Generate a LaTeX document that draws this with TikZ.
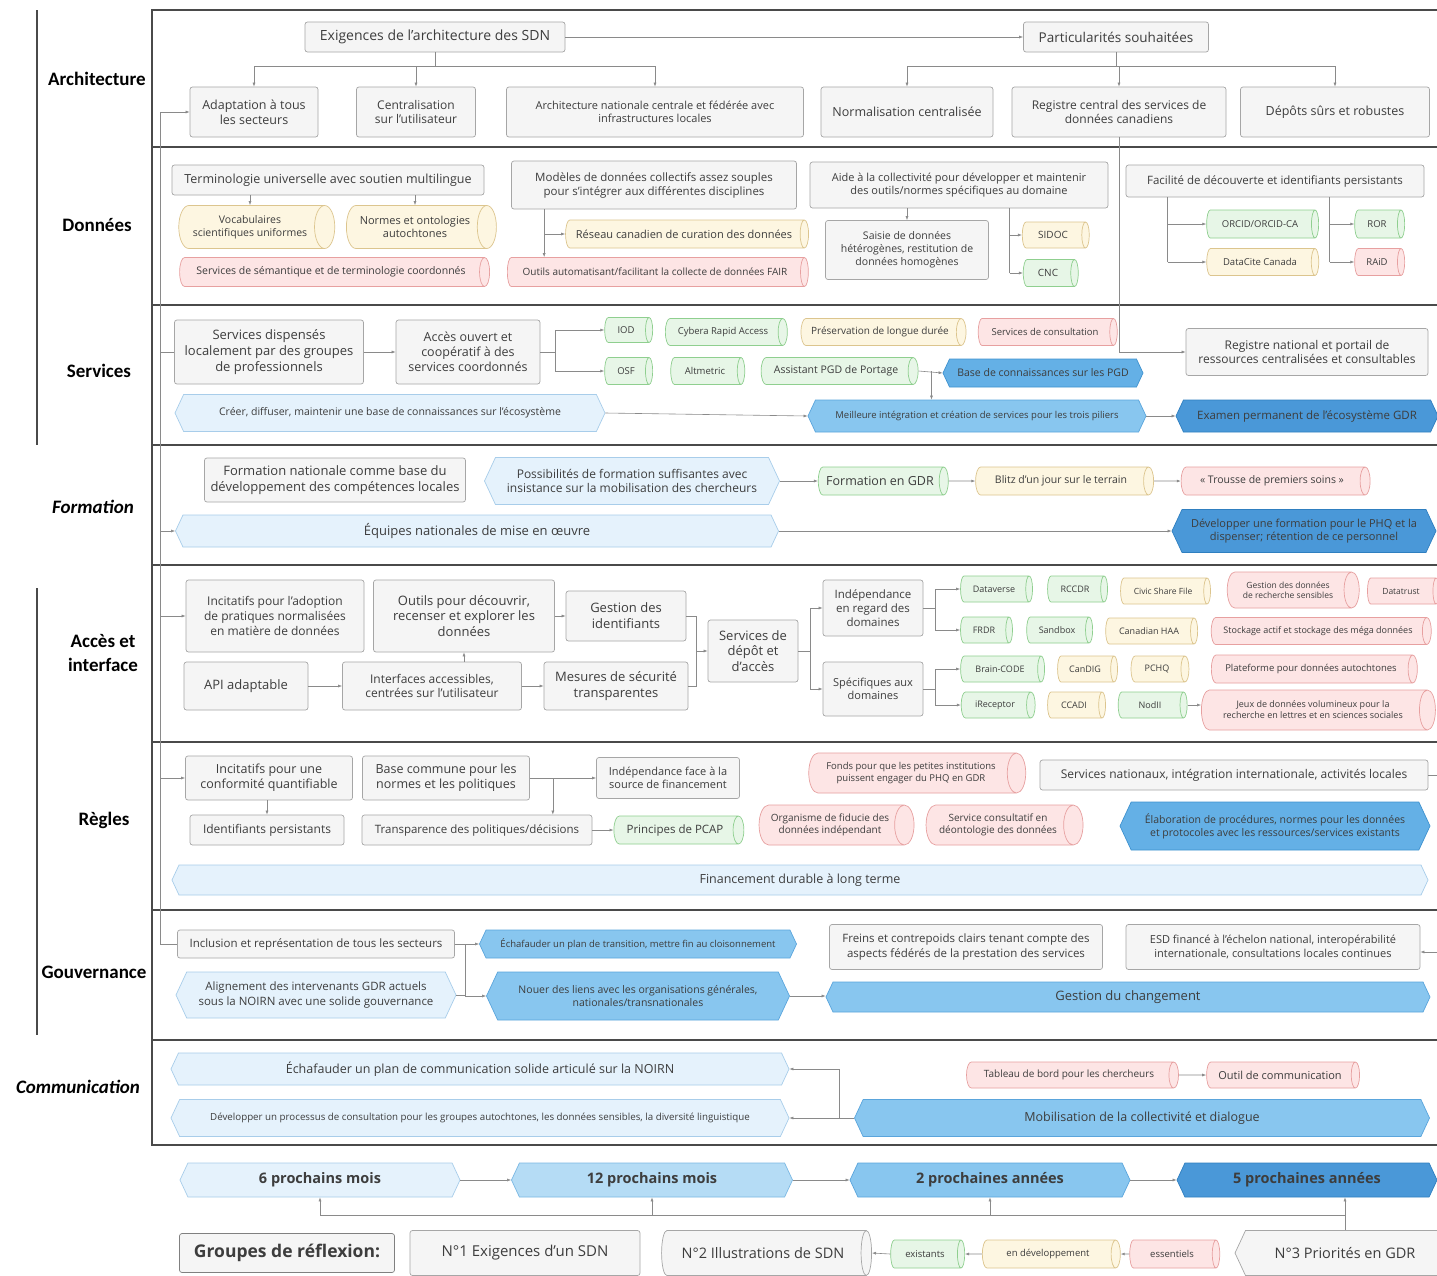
\documentclass[tikz,border=0pt]{standalone}
\usepackage{fontspec}
\setmainfont{Open Sans}
\newfontfamily\lab{Carlito}
\usetikzlibrary{shapes.geometric,shapes.symbols,arrows.meta,calc}
\newcommand\fs[1]{\fontsize{#1}{\fpeval{1.22*#1}}\selectfont}
\definecolor{txt}{HTML}{3D3D3D}
\definecolor{gbd}{HTML}{A6A6A6}
\definecolor{gfl}{HTML}{F5F5F5}
\definecolor{gnb}{HTML}{8FCF8F}
\definecolor{gnf}{HTML}{E7F6E7}
\definecolor{ylb}{HTML}{DCC58E}
\definecolor{ylf}{HTML}{FDF6E1}
\definecolor{pkb}{HTML}{E7A0A0}
\definecolor{pkf}{HTML}{FDE5E5}
\definecolor{lbd}{HTML}{A8CDEA}
\definecolor{lbf}{HTML}{E5F2FC}
\definecolor{mbd}{HTML}{7AB8E3}
\definecolor{mbf}{HTML}{B5DCF5}
\definecolor{bbd}{HTML}{5AA5DC}
\definecolor{bbf}{HTML}{88C6EF}
\definecolor{b3d}{HTML}{3F92CF}
\definecolor{b3f}{HTML}{64B0E6}
\definecolor{dbd}{HTML}{2F7FC0}
\definecolor{dbf}{HTML}{4A98D8}
\definecolor{lnc}{HTML}{8A8A8A}
\definecolor{frm}{HTML}{4A4A4A}
\tikzset{
  nb/.style={align=center, text=txt, inner sep=1pt, line width=0.7pt},
  wh/.style 2 args={minimum width=#1, minimum height=#2},
  cw/.style 2 args={minimum height=#1, minimum width=#2},
  fz/.style={font=\fs{#1}},
  gbox/.style={nb, rectangle, rounded corners=2.5pt, draw=gbd, fill=gfl},
  cylb/.style={nb, cylinder, aspect=0.8, shape border rotate=0},
  gcyl/.style={cylb, draw=gnb, fill=gnf},
  ycyl/.style={cylb, draw=ylb, fill=ylf},
  pcyl/.style={cylb, draw=pkb, fill=pkf},
  graycyl/.style={cylb, draw=gbd, fill=gfl},
  hexb/.style={nb, signal, signal to=east and west, signal pointer angle=130},
  hL/.style={hexb, draw=lbd, fill=lbf},
  hM/.style={hexb, draw=mbd, fill=mbf},
  hB/.style={hexb, draw=bbd, fill=bbf},
  hB3/.style={hexb, draw=b3d, fill=b3f},
  hD/.style={hexb, draw=dbd, fill=dbf},
  hG/.style={hexb, draw=gbd, fill=gfl},
  ln/.style={draw=lnc, line width=0.6pt},
  ar/.style={ln, -{Latex[length=4pt,width=3pt]}},
  sec/.style={font=\lab\bfseries\fs{19}, align=center, text=black},
  seci/.style={font=\lab\bfseries\itshape\fs{19}, align=center, text=black},
  frame/.style={draw=frm, line width=2.4pt},
  spine/.style={draw=frm, line width=1.8pt},
}
\begin{document}
\begin{tikzpicture}[x=1pt,y=-1pt]
\useasboundingbox (0,0) rectangle (1437,1275);
\fill[white] (0,0) rectangle (1437,1275);

% frame
\draw[frame] (1437,10) -- (152,10) -- (152,1145) -- (1437,1145);
\foreach \yy in {147,305,445,565,742,910,1040} \draw[frame] (152,\yy) -- (1437,\yy);
\draw[spine] (37,10) -- (37,445);
\draw[spine] (37,588) -- (37,1035);

% section labels
\node[sec] (lArch) at (97,79) {Architecture};
\node[sec] (lDon) at (97,225) {Données};
\node[sec] (lServ) at (99,371) {Services};
\node[seci] (lForm) at (93,507) {Formation};
\node[sec] (lAcc) at (103,653) {Accès et\\interface};
\node[sec] (lRegl) at (104,820) {Règles};
\node[sec] (lGouv) at (94,972) {Gouvernance};
\node[seci] (lComm) at (78,1087) {Communication};

% ---------------- Architecture
\node[gbox,wh={260}{30},fz=14] (exig) at (435,37) {Exigences de l'architecture des SDN};
\node[gbox,wh={185}{30},fz=13.5] (part) at (1116,37) {Particularités souhaitées};
\node[gbox,wh={128}{50},fz=12.5] (adapt) at (254,112) {Adaptation à tous\\les secteurs};
\node[gbox,wh={119}{50},fz=12] (centr) at (416,112) {Centralisation\\sur l'utilisateur};
\node[gbox,wh={297}{50},fz=11] (archnat) at (655,112) {Architecture nationale centrale et fédérée avec\\infrastructures locales};
\node[gbox,wh={172}{50},fz=12.5] (norm) at (907,112) {Normalisation centralisée};
\node[gbox,wh={214}{50},fz=12] (regc) at (1119,112) {Registre central des services de\\données canadiens};
\node[gbox,wh={189}{50},fz=12.5] (depot) at (1335,112) {Dépôts sûrs et robustes};

% ---------------- Données
\node[gbox,wh={312}{30},fz=12.5] (termi) at (328,180) {Terminologie universelle avec soutien multilingue};
\node[ycyl,cw={156}{43},fz=10.5] (vocab) at (250,227) {Vocabulaires\\scientifiques uniformes};
\node[ycyl,cw={150}{43},fz=11] (normaut) at (415,227) {Normes et ontologies\\autochtones};
\node[pcyl,cw={310}{29},fz=10.5] (semant) at (331,272) {Services de sémantique et de terminologie coordonnés};
\node[gbox,wh={285}{48},fz=11.5] (model) at (654,185) {Modèles de données collectifs assez souples\\pour s'intégrer aux différentes disciplines};
\node[ycyl,cw={243}{28},fz=11] (reseau) at (684,234) {Réseau canadien de curation des données};
\node[pcyl,cw={301}{29},fz=10] (outils) at (655,272) {Outils automatisant/facilitant la collecte de données FAIR};
\node[gbox,wh={298}{46},fz=11] (aide) at (959,185) {Aide à la collectivité pour développer et maintenir\\des outils/normes spécifiques au domaine};
\node[gbox,wh={163}{59},fz=10.5] (saisie) at (907,250) {Saisie de données\\hétérogènes, restitution de\\données homogènes};
\node[ycyl,cw={67}{26},fz=10] (sidoc) at (1053,235) {SIDOC};
\node[gcyl,cw={55}{27},fz=10] (cnc) at (1048,273) {CNC};
\node[gbox,wh={298}{32},fz=11.5] (facil) at (1275,181) {Facilité de découverte et identifiants persistants};
\node[gcyl,cw={112}{28},fz=9.5] (orcid) at (1260,224) {ORCID/ORCID-CA};
\node[ycyl,cw={112}{27},fz=9.5] (datacite) at (1260,262) {DataCite Canada};
\node[gcyl,cw={50}{28},fz=9.5] (ror) at (1377,224) {ROR};
\node[pcyl,cw={50}{27},fz=9.5] (raid) at (1377,262) {RAiD};

% ---------------- Services
\node[gbox,wh={189}{64},fz=13] (servd) at (269,352) {Services dispensés\\localement par des groupes\\de professionnels};
\node[gbox,wh={144}{64},fz=12.5] (acces) at (468,352) {Accès ouvert et\\coopératif à des\\services coordonnés};
\node[gcyl,cw={48}{25},fz=9.5] (iod) at (626,330) {IOD};
\node[gcyl,cw={48}{27},fz=9.5] (osf) at (626,371) {OSF};
\node[gcyl,cw={122}{27},fz=9.5] (cybera) at (723,332) {Cybera Rapid Access};
\node[ycyl,cw={165}{27},fz=10] (preserv) at (880,332) {Préservation de longue durée};
\node[pcyl,cw={139}{27},fz=9.5] (consult) at (1045,332) {Services de consultation};
\node[gcyl,cw={74}{27},fz=9.5] (altm) at (705,371) {Altmetric};
\node[gcyl,cw={157}{27},fz=10.5] (assist) at (836,371) {Assistant PGD de Portage};
\node[hB3,wh={200}{28},fz=10.5] (basepgd) at (1043,373) {Base de connaissances sur les PGD};
\node[gbox,wh={242}{47},fz=12] (regnat) at (1307,352) {Registre national et portail de\\ressources centralisées et consultables};
\node[hL,wh={430}{37},fz=10.5] (creer) at (390,413) {Créer, diffuser, maintenir une base de connaissances sur l'écosystème};
\node[hB,wh={338}{32},fz=9.5] (meill) at (977,416) {Meilleure intégration et création de services pour les trois piliers};
\node[hD,wh={262}{32},fz=11.5] (examen) at (1307,416) {Examen permanent de l'écosystème GDR};

% ---------------- Formation
\node[gbox,wh={261}{44},fz=13] (formnat) at (335,480) {Formation nationale comme base du\\développement des compétences locales};
\node[hL,wh={295}{47},fz=12] (possib) at (632,481) {Possibilités de formation suffisantes avec\\insistance sur la mobilisation des chercheurs};
\node[gcyl,cw={130}{28},fz=12.5] (formgdr) at (880,481) {Formation en GDR};
\node[ycyl,cw={178}{28},fz=10.5] (blitz) at (1061,481) {Blitz d'un jour sur le terrain};
\node[pcyl,cw={189}{28},fz=10.5] (trousse) at (1272,481) {« Trousse de premiers soins »};
\node[hL,wh={603}{32},fz=13] (equipes) at (477,531) {Équipes nationales de mise en œuvre};
\node[hD,wh={264}{43},fz=11] (devform) at (1304,531) {Développer une formation pour le PHQ et la\\dispenser; rétention de ce personnel};

% ---------------- Accès et interface
\node[gbox,wh={178}{72},fz=12] (incad) at (275,616) {Incitatifs pour l'adoption\\de pratiques normalisées\\en matière de données};
\node[gbox,wh={181}{72},fz=13] (outdec) at (464,616) {Outils pour découvrir,\\recenser et explorer les\\données};
\node[gbox,wh={120}{50},fz=13] (gestid) at (626,616) {Gestion des\\identifiants};
\node[gbox,wh={124}{48},fz=13] (api) at (246,686) {API adaptable};
\node[gbox,wh={179}{48},fz=12] (interf) at (432,686) {Interfaces accessibles,\\centrées sur l'utilisateur};
\node[gbox,wh={144}{48},fz=13] (mesures) at (616,686) {Mesures de sécurité\\transparentes};
\node[gbox,wh={90}{62},fz=13] (servdep) at (753,651) {Services de\\dépôt et\\d'accès};
\node[gbox,wh={100}{56},fz=11.5] (indep) at (873,608) {Indépendance\\en regard des\\domaines};
\node[gbox,wh={100}{54},fz=11] (specif) at (873,689) {Spécifiques aux\\domaines};
\node[gcyl,cw={72}{26},fz=9] (dataverse) at (994,589) {Dataverse};
\node[gcyl,cw={60}{26},fz=9] (rccdr) at (1075,589) {RCCDR};
\node[ycyl,cw={90}{26},fz=8.5] (civic) at (1163,591) {Civic Share File};
\node[pcyl,cw={132}{36},fz=8.5] (gestsens) at (1288,590) {Gestion des données\\de recherche sensibles};
\node[pcyl,cw={72}{26},fz=8.5] (datat) at (1401,591) {Datatrust};
\node[gcyl,cw={52}{26},fz=9] (frdr) at (984,630) {FRDR};
\node[gcyl,cw={66}{26},fz=9] (sebilay) at (1057,630) {Sandbox};
\node[ycyl,cw={92}{26},fz=9] (canhaa) at (1149,631) {Canadian HAA};
\node[pcyl,cw={220}{27},fz=9] (stockage) at (1318,631) {Stockage actif et stockage des méga données};
\node[gcyl,cw={84}{26},fz=9] (brain) at (1000,669) {Brain-CODE};
\node[ycyl,cw={60}{26},fz=9] (candig) at (1085,669) {CanDIG};
\node[ycyl,cw={58}{26},fz=9] (pchq) at (1157,669) {PCHQ};
\node[pcyl,cw={206}{28},fz=9.5] (platf) at (1311,669) {Plateforme pour données autochtones};
\node[gcyl,cw={74}{26},fz=9] (irecep) at (995,705) {iReceptor};
\node[ycyl,cw={58}{26},fz=9] (ccadi) at (1074,705) {CCADI};
\node[gcyl,cw={69}{26},fz=9] (nodd) at (1150,705) {NodII};
\node[pcyl,cw={234}{40},fz=9] (jeux) at (1313,710) {Jeux de données volumineux pour la\\recherche en lettres et en sciences sociales};

% ---------------- Règles
\node[gbox,wh={167}{44},fz=12.5] (incconf) at (269,778) {Incitatifs pour une\\conformité quantifiable};
\node[gbox,wh={154}{30},fz=12] (identp) at (267,830) {Identifiants persistants};
\node[gbox,wh={167}{44},fz=12.5] (basecom) at (446,778) {Base commune pour les\\normes et les politiques};
\node[gbox,wh={143}{41},fz=11] (indepf) at (668,778) {Indépendance face à la\\source de financement};
\node[gbox,wh={230}{30},fz=11.5] (transp) at (477,830) {Transparence des politiques/décisions};
\node[gcyl,cw={130}{28},fz=11.5] (pcap) at (675,830) {Principes de PCAP};
\node[pcyl,cw={217}{40},fz=9.5] (fonds) at (911,773) {Fonds pour que les petites institutions\\puissent engager du PHQ en GDR};
\node[gbox,wh={388}{30},fz=12] (servnat) at (1234,775) {Services nationaux, intégration internationale, activités locales};
\node[pcyl,cw={155}{40},fz=10] (fiducie) at (830,825) {Organisme de fiducie des\\données indépendant};
\node[pcyl,cw={157}{40},fz=10] (consdeont) at (998,825) {Service consultatif en\\déontologie des données};
\node[hB3,wh={310}{48},fz=10.5] (elab) at (1275,826) {Élaboration de procédures, normes pour les données\\et protocoles avec les ressources/services existants};
\node[hL,wh={1256}{30},fz=12.5] (financ) at (800,880) {Financement durable à long terme};

% ---------------- Gouvernance
\node[gbox,wh={277}{28},fz=11.5] (inclus) at (316,944) {Inclusion et représentation de tous les secteurs};
\node[hL,wh={280}{46},fz=11.5] (align) at (316,995) {Alignement des intervenants GDR actuels\\sous la NOIRN avec une solide gouvernance};
\node[hB,wh={317}{28},fz=9.5] (echtrans) at (638,944) {Échafauder un plan de transition, mettre fin au cloisonnement};
\node[hB,wh={303}{48},fz=10.5] (nouer) at (638,996) {Nouer des liens avec les organisations générales,\\nationales/transnationales};
\node[hB,wh={604}{30},fz=13] (gestch) at (1128,997) {Gestion du changement};
\node[gbox,wh={273}{45},fz=11.5] (freins) at (966,947) {Freins et contrepoids clairs tenant compte des\\aspects fédérés de la prestation des services};
\node[gbox,wh={294}{45},fz=11] (esd) at (1273,947) {ESD financé à l'échelon national, interopérabilité\\internationale, consultations locales continues};

% ---------------- Communication
\node[hL,wh={618}{32},fz=12.5] (echcomm) at (480,1069) {Échafauder un plan de communication solide articulé sur la NOIRN};
\node[hL,wh={618}{37},fz=9.75] (devproc) at (480,1118) {Développer un processus de consultation pour les groupes autochtones, les données sensibles, la diversité linguistique};
\node[pcyl,cw={212}{26},fz=10] (tableau) at (1069,1075) {Tableau de bord pour les chercheurs};
\node[pcyl,cw={153}{26},fz=11] (outcom) at (1280,1075) {Outil de communication};
\node[hB,wh={575}{37},fz=12.5] (mobil) at (1142,1118) {Mobilisation de la collectivité et dialogue};

% ---------------- Bottom
\node[hL,wh={280}{34},fz=14.5] (m6) at (320,1180) {\bfseries 6 prochains mois};
\node[hM,wh={281}{34},fz=14.5] (m12) at (652,1180) {\bfseries 12 prochains mois};
\node[hB,wh={280}{34},fz=14.5] (a2) at (990,1180) {\bfseries 2 prochaines années};
\node[hD,wh={260}{34},fz=14.5] (a5) at (1307,1180) {\bfseries 5 prochaines années};
\node[gbox,draw=gray,wh={215}{39},fz=17.5] (groupes) at (287,1253) {\bfseries Groupes de réflexion:};
\node[gbox,wh={230}{45},fz=15] (n1) at (525,1253) {N°1 Exigences d'un SDN};
\node[graycyl,cw={210}{45},fz=14.5] (n2) at (763,1253) {N°2 Illustrations de SDN};
\node[gcyl,cw={74}{28},fz=9.5] (exist) at (925,1254) {existants};
\node[ycyl,cw={138}{28},fz=9.5] (endev) at (1048,1254) {en développement};
\node[pcyl,cw={90}{28},fz=9.5] (essent) at (1172,1254) {essentiels};
\node[hG,wh={220}{45},fz=14.5] (n3) at (1345,1253) {N°3 Priorités en GDR};

% ================= connectors
% spine
\coordinate (spT) at (160,112);
\coordinate (spB) at (160,944);
\draw[ln] (spT) -- (spB);
\draw[ar] (spT) -- (adapt.west);
\draw[ln] (spT |- servd.west) -- (servd.west);
\draw[ar] (spT |- equipes.west) -- (equipes.west);
\draw[ar] (spT |- incad.west) -- (incad.west);
\draw[ar] (spT |- incconf.west) -- (incconf.west);
\draw[ln] (spB) -- (inclus.west);

% architecture
\draw[ar] (exig.east) -- (part.west);
\coordinate (busA) at (0,66);
\draw[ln] (exig.south) -- (exig.south |- busA);
\draw[ln] (adapt.north |- busA) -- (archnat.north |- busA);
\foreach \n in {adapt,centr,archnat} \draw[ar] (\n.north |- busA) -- (\n.north);
\draw[ln] (part.south) -- (part.south |- busA);
\draw[ln] (norm.north |- busA) -- (depot.north |- busA);
\foreach \n in {norm,regc,depot} \draw[ar] (\n.north |- busA) -- (\n.north);
\draw[ar] (regc.south) |- (regnat.west);

% données
\draw[ar] (vocab.north |- termi.south) -- (vocab.north);
\draw[ar] (normaut.north |- termi.south) -- (normaut.north);
\coordinate (mdrop) at ($(model.south west)+(33,0)$);
\draw[ar] (mdrop) -- (mdrop |- outils.north);
\draw[ar] (mdrop |- reseau.west) -- (reseau.west);
\draw[ar] (saisie.north |- aide.south) -- (saisie.north);
\coordinate (adrop) at ($(aide.south west)+(200,0)$);
\draw[ln] (adrop) -- (adrop |- cnc.west);
\draw[ar] (adrop |- sidoc.west) -- (sidoc.west);
\draw[ar] (adrop |- cnc.west) -- (cnc.west);
\coordinate (fd1) at ($(facil.south west)+(42,0)$);
\coordinate (fd2) at ($(facil.south west)+(204,0)$);
\draw[ln] (fd1) -- (fd1 |- datacite.west);
\draw[ar] (fd1 |- orcid.west) -- (orcid.west);
\draw[ar] (fd1 |- datacite.west) -- (datacite.west);
\draw[ln] (fd2) -- (fd2 |- raid.west);
\draw[ar] (fd2 |- ror.west) -- (ror.west);
\draw[ar] (fd2 |- raid.west) -- (raid.west);

% services
\draw[ar] (servd.east) -- (acces.west);
\coordinate (abr) at ($(acces.east)+(15,0)$);
\draw[ln] (acces.east) -- (abr);
\draw[ln] (abr |- iod.west) -- (abr |- osf.west);
\draw[ar] (abr |- iod.west) -- (iod.west);
\draw[ar] (abr |- osf.west) -- (osf.west);
\coordinate (pj) at ($(assist.east)+(13,0)$);
\draw[ar] (assist.east) -- (basepgd.west);
\draw[ar] (pj) -- (pj |- meill.north);
\draw[ar] (creer.east) -- (meill.west);
\draw[ar] (meill.east) -- (examen.west);

% formation
\draw[ar] (possib.east) -- (formgdr.west);
\draw[ar] (formgdr.east) -- (blitz.west);
\draw[ar] (blitz.east) -- (trousse.west);
\draw[ar] (equipes.east) -- (devform.west);

% accès
\draw[ar] (outdec.east) -- (gestid.west);
\draw[ar] (api.east) -- (interf.west);
\draw[ar] (interf.east) -- (mesures.west);
\draw[ar] (outdec.south |- interf.north) -- (outdec.south);
\coordinate (sj) at ($(servdep.west)+(-11,0)$);
\draw[ln] (gestid.east) -| (sj |- mesures.east) -- (mesures.east);
\draw[ar] (sj) -- (servdep.west);
\coordinate (sb) at ($(servdep.east)+(12,0)$);
\draw[ln] (servdep.east) -- (sb);
\draw[ln] (sb |- indep.west) -- (sb |- specif.west);
\draw[ar] (sb |- indep.west) -- (indep.west);
\draw[ar] (sb |- specif.west) -- (specif.west);
\coordinate (ib) at ($(indep.east)+(12,0)$);
\draw[ln] (indep.east) -- (ib);
\draw[ln] (ib |- dataverse.west) -- (ib |- frdr.west);
\draw[ar] (ib |- dataverse.west) -- (dataverse.west);
\draw[ar] (ib |- frdr.west) -- (frdr.west);
\coordinate (spb) at ($(specif.east)+(12,0)$);
\draw[ln] (specif.east) -- (spb);
\draw[ln] (spb |- brain.west) -- (spb |- irecep.west);
\draw[ar] (spb |- brain.west) -- (brain.west);
\draw[ar] (spb |- irecep.west) -- (irecep.west);
\draw[ar] (nodd.east) -- (nodd.east -| jeux.west);

% règles
\draw[ar] (identp.north |- incconf.south) -- (identp.north);
\coordinate (bj) at ($(basecom.east)+(23,0)$);
\draw[ar] (basecom.east) -- (indepf.west);
\draw[ar] (bj) -- (bj |- transp.north);
\draw[ar] (transp.east) -- (pcap.west);
\coordinate (offR1) at (1437,775);
\draw[ln] (servnat.east) -- (offR1);

% gouvernance
\coordinate (gj) at ($(inclus.east)+(10,0)$);
\draw[ln] (inclus.east) -- (gj) -- (gj |- align.east) -- (align.east);
\draw[ar] (gj) -- (echtrans.west);
\draw[ar] (gj |- nouer.west) -- (nouer.west);
\draw[ar] (nouer.east) -- (nouer.east -| gestch.west);
\coordinate (offR2) at (1437,952);
\draw[ar] (offR2) -- (offR2 -| esd.east);

% communication
\coordinate (cj) at ($(mobil.west)+(-15,0)$);
\draw[ln] (mobil.west) -- (cj) -- (cj |- echcomm.east);
\draw[ar] (cj |- echcomm.east) -- (echcomm.east);
\draw[ar] (cj) -- (devproc.east);
\draw[ar] (tableau.east) -- (outcom.west);

% bottom
\draw[ar] (m6.east) -- (m12.west);
\draw[ar] (m12.east) -- (a2.west);
\draw[ar] (a2.east) -- (a5.west);
\coordinate (bb) at ($(n3.north)+(0,-15)$);
\draw[ln] (n3.north) -- (bb) -- (bb -| m6.south);
\draw[ar] (bb -| m6.south) -- (m6.south);
\draw[ar] (bb -| m12.south) -- (m12.south);
\draw[ar] (bb -| a2.south) -- (a2.south);
\draw[ar] (bb) -- (bb |- a5.south);
\draw[ar] (exist.west) -- (n2.east);
\draw[ar] (endev.west) -- (exist.east);
\draw[ar] (essent.west) -- (endev.east);
\end{tikzpicture}
\end{document}
